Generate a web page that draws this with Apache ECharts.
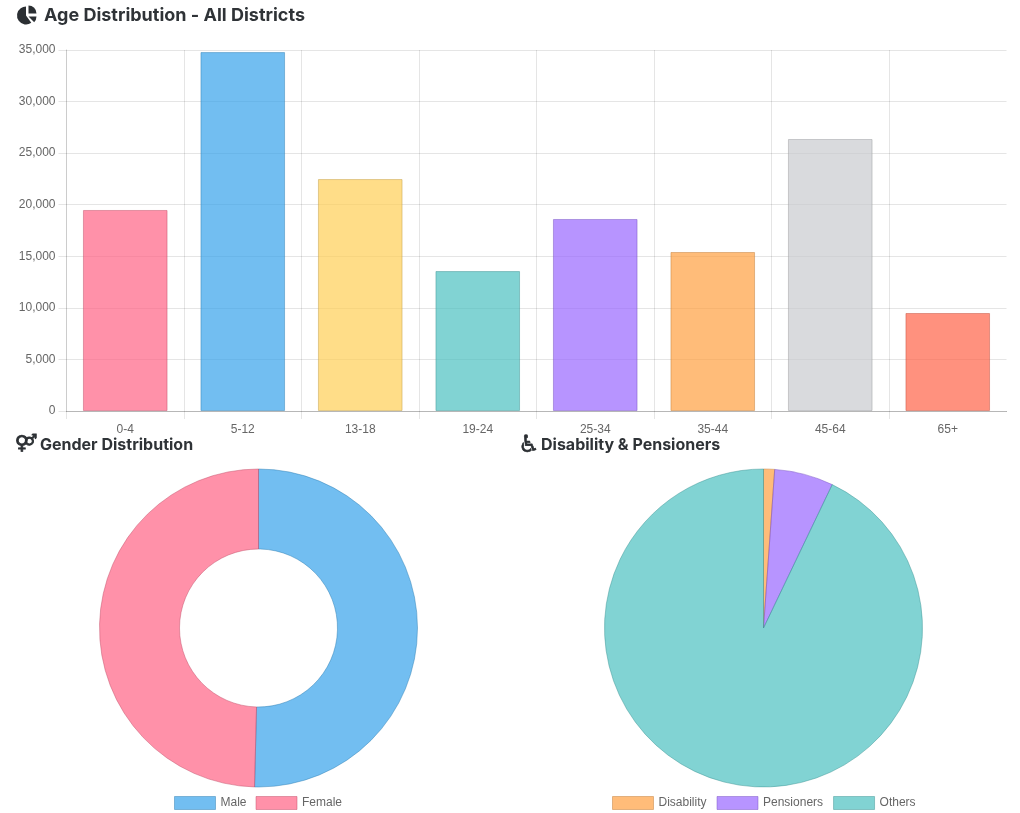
<!DOCTYPE html>
<html>
<head>
<meta charset="utf-8">
<style>html,body{margin:0;padding:0;background:#fff}#c{width:1020px;height:813px}</style>
<script src="https://cdn.jsdelivr.net/npm/echarts@6/dist/echarts.min.js"></script>
</head>
<body>
<div id="c"></div>
<script>
const ageCategories = ['0-4','5-12','13-18','19-24','25-34','35-44','45-64','65+'];
const ageValues = [19490,34800,22490,13570,18615,15415,26370,9500];
const genderNames = ['Male','Female'];
const genderValues = [80760,79490];
const welfareNames = ['Disability','Pensioners','Others'];
const welfareValues = [1800,9600,148850];
const yMax = 35000;
const yStep = 5000;

const C = {
  pink:[255,99,132], blue:[54,162,235], yellow:[255,206,86], teal:[75,192,192],
  purple:[153,102,255], orange:[255,159,64], grey:[201,203,207], tomato:[255,99,71]
};
const fill = c => `rgba(${c[0]},${c[1]},${c[2]},0.7)`;
const style = c => ({color:fill(c),borderColor:`rgba(${Math.round(c[0]*0.75)},${Math.round(c[1]*0.75)},${Math.round(c[2]*0.75)},0.45)`,borderWidth:1});
const ageColors = [C.pink,C.blue,C.yellow,C.teal,C.purple,C.orange,C.grey,C.tomato];
const genderColors = [C.blue,C.pink];
const welfareColors = [C.orange,C.purple,C.teal];
const labelFont = {fontFamily:'"Liberation Sans",Arial,sans-serif',fontSize:12,color:'#666'};
const titleFont = (s)=>({fontFamily:'Inter,sans-serif',fontWeight:700,fontSize:s,color:'#2f3337'});
const gridCol = 'rgba(0,0,0,0.1)';
const axisCol = 'rgba(0,0,0,0.2)';
const ink = '#2b2f33';
const iconFont = (s,w)=>({fontFamily:'"DejaVu Sans"',fontSize:s,color:ink,textBorderColor:ink,textBorderWidth:w});

const chart = echarts.init(document.getElementById('c'),null,{renderer:'canvas'});
chart.setOption({
  animation:false,
  backgroundColor:'#fff',
  title:[
    {text:'Age Distribution - All Districts',left:44,top:7,padding:0,textStyle:titleFont(18)},
    {text:'Gender Distribution',left:40,top:437,padding:0,textStyle:titleFont(16)},
    {text:'Disability & Pensioners',left:541,top:437,padding:0,textStyle:titleFont(16)},
    {text:'\u2640',left:15,top:435,padding:0,textStyle:iconFont(19,0.9)},
    {text:'\u2642',left:24,top:434,padding:0,textStyle:iconFont(15,0.9)},
    {text:'\u267F',left:518,top:434,padding:0,textStyle:iconFont(24,0.6)}
  ],
  graphic:[
    {type:'sector',silent:true,shape:{cx:26,cy:15.5,r:9,r0:0,startAngle:Math.PI*0.3,endAngle:Math.PI*1.5},style:{fill:ink}},
    {type:'sector',silent:true,shape:{cx:28.5,cy:13.5,r:8,r0:0,startAngle:-Math.PI/2,endAngle:0},style:{fill:ink}},
    {type:'sector',silent:true,shape:{cx:28.5,cy:16.5,r:8,r0:0,startAngle:0,endAngle:Math.PI*0.25},style:{fill:ink}},
    {type:'line',silent:true,z:100,shape:{x1:1006.5,y1:412,x2:1006.5,y2:421},style:{stroke:'#fff',lineWidth:2}}
  ],
  grid:{left:66.5,right:13.5,top:50,height:361,containLabel:false},
  xAxis:{
    type:'category',data:ageCategories,boundaryGap:true,
    axisLine:{lineStyle:{color:axisCol,width:1}},
    axisTick:{show:true,length:8,lineStyle:{color:gridCol}},
    axisLabel:Object.assign({margin:13,interval:0},labelFont),
    splitLine:{show:true,showMaxLine:false,showMinLine:false,lineStyle:{color:gridCol,width:1}}
  },
  yAxis:{
    type:'value',min:0,max:yMax,interval:yStep,
    axisLine:{show:true,lineStyle:{color:axisCol,width:1}},
    axisTick:{show:true,length:8,lineStyle:{color:gridCol}},
    axisLabel:Object.assign({margin:11,padding:[4,0,0,0],formatter:v=>v.toLocaleString('en-US')},labelFont),
    splitLine:{show:true,lineStyle:{color:gridCol,width:1}}
  },
  legend:[
    {data:genderNames,left:174,top:796,itemWidth:41,itemHeight:13,itemGap:9,padding:0,icon:'rect',selectedMode:false,textStyle:labelFont,itemStyle:{borderWidth:1}},
    {data:welfareNames,left:612,top:796,itemWidth:41,itemHeight:13,itemGap:10,padding:0,icon:'rect',selectedMode:false,textStyle:labelFont,itemStyle:{borderWidth:1}}
  ],
  series:[
    {type:'bar',barWidth:'72%',silent:true,
      data:ageValues.map((v,i)=>({value:v,itemStyle:style(ageColors[i])}))},
    {type:'pie',center:[258.5,628],radius:[79,159],startAngle:90,clockwise:true,silent:true,label:{show:false},labelLine:{show:false},
      data:genderNames.map((n,i)=>({name:n,value:genderValues[i],itemStyle:style(genderColors[i])}))},
    {type:'pie',center:[763.5,628],radius:[0,159],startAngle:90,clockwise:true,silent:true,label:{show:false},labelLine:{show:false},
      data:welfareNames.map((n,i)=>({name:n,value:welfareValues[i],itemStyle:style(welfareColors[i])}))}
  ]
});
</script>
</body>
</html>
